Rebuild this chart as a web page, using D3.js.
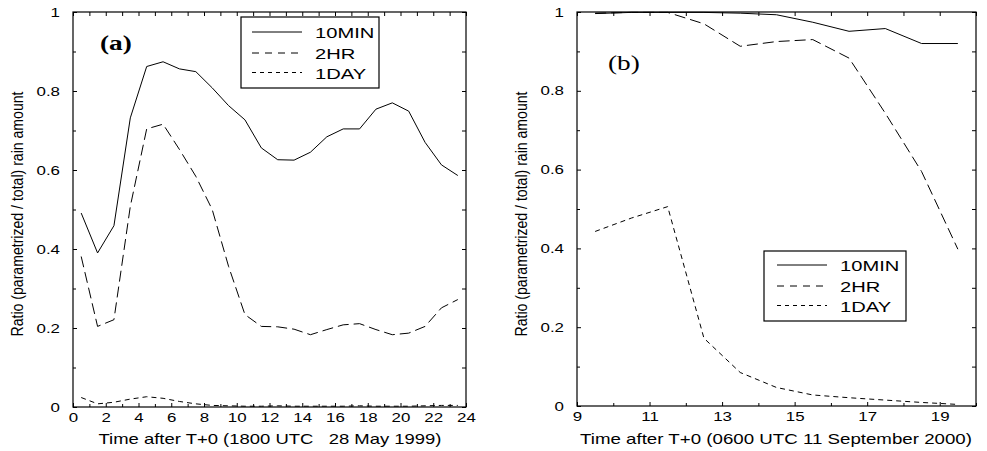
<!DOCTYPE html>
<html>
<head>
<meta charset="utf-8">
<script src="https://cdn.jsdelivr.net/npm/d3@7"></script>
<style>
  body { margin: 0; background: #fff; }
  svg { display: block; }
  .domain { stroke: none; }
  .tick line { stroke: #000; }
</style>
</head>
<body>
<script>
// ---- data ----
var hoursA = [0.5,1.5,2.5,3.5,4.5,5.5,6.5,7.5,8.5,9.5,10.5,11.5,12.5,13.5,14.5,15.5,16.5,17.5,18.5,19.5,20.5,21.5,22.5,23.5];
var min10A = [0.491,0.390,0.459,0.732,0.862,0.874,0.856,0.849,0.808,0.763,0.727,0.656,0.626,0.625,0.645,0.684,0.704,0.704,0.754,0.770,0.749,0.670,0.613,0.586];
var hr2A   = [0.381,0.204,0.221,0.508,0.704,0.716,0.652,0.584,0.500,0.356,0.234,0.204,0.203,0.197,0.183,0.196,0.208,0.211,0.196,0.183,0.187,0.204,0.251,0.272];
var day1A  = [0.024,0.008,0.012,0.020,0.026,0.022,0.014,0.008,0.004,0.003,0.002,0.002,0.003,0.002,0.002,0.002,0.002,0.003,0.002,0.002,0.002,0.003,0.004,0.004];

var hoursB = [9.5,10.5,11.5,12.5,13.5,14.5,15.5,16.5,17.5,18.5,19.5];
var min10B = [0.996,0.999,0.999,0.999,0.997,0.993,0.974,0.951,0.958,0.920,0.920];
var hr2B   = [0.997,0.999,0.999,0.970,0.913,0.925,0.930,0.883,0.743,0.595,0.398];
var day1B  = [0.443,0.477,0.506,0.172,0.085,0.047,0.028,0.021,0.015,0.009,0.004];

var yMajor = [0,0.2,0.4,0.6,0.8,1];
var yMinor = [0.1,0.3,0.5,0.7,0.9];
var xMajorA = d3.range(0, 25, 2);
var xMinorA = d3.range(1, 24, 2);
var xMajorB = [9,11,13,15,17,19];
var xMinorB = [10,12,14,16,18,20];

var seriesNames = ["10MIN", "2HR", "1DAY"];
var dashes = [null, "11,5", "5,4"];
var legendDashes = [null, "7,6", "4,4"];
var stretch = 1.3;  // the original figure is stretched sideways

var svg = d3.select("body").append("svg")
            .attr("width", 987)
            .attr("height", 451);

function yFmt(d) { return d === 0 ? "0" : d === 1 ? "1" : d3.format(".1f")(d); }

function drawPanel(p) {
    var w = p.x1 - p.x0, h = p.y1 - p.y0;
    var g = svg.append("g").attr("transform", "translate(" + p.x0 + "," + p.y0 + ")");

    var x = d3.scaleLinear().domain(p.xDomain).range([0, w]);
    var y = d3.scaleLinear().domain([0, 1]).range([h, 0]);

    // inward ticks on all four sides
    g.append("g").attr("transform", "translate(0," + h + ")")
     .call(d3.axisBottom(x).tickValues(p.xMinor).tickSize(-3).tickFormat(""));
    g.append("g")
     .call(d3.axisTop(x).tickValues(p.xMajor.concat(p.xMinor)).tickSize(-4).tickFormat(""));
    g.append("g").call(d3.axisLeft(y).tickValues(yMinor).tickSize(-3).tickFormat(""));
    g.append("g").attr("transform", "translate(" + w + ",0)")
     .call(d3.axisRight(y).tickValues(yMajor.concat(yMinor)).tickSize(-4).tickFormat(""));

    var xAxis = g.append("g").attr("transform", "translate(0," + h + ")")
     .call(d3.axisBottom(x).tickValues(p.xMajor).tickSize(-4).tickPadding(6));
    var yAxis = g.append("g")
     .call(d3.axisLeft(y).tickValues(yMajor).tickSize(-4).tickPadding(10).tickFormat(yFmt));

    [xAxis, yAxis].forEach(function(a) {
        a.selectAll("text")
         .attr("fill", "#000")
         .style("font-family", "Liberation Sans, Arial, sans-serif")
         .style("font-size", "13px")
         .attr("transform", "scale(" + stretch + ",1)");
    });

    g.append("rect")
     .attr("width", w).attr("height", h)
     .attr("fill", "none").attr("stroke", "#000").attr("stroke-width", 1.2);

    var line = d3.line().x(function(d) { return x(d[0]); }).y(function(d) { return y(d[1]); });
    p.series.forEach(function(s, i) {
        g.append("path")
         .datum(p.hours.map(function(t, j) { return [t, s[j]]; }))
         .attr("d", line)
         .attr("fill", "none")
         .attr("stroke", "#000")
         .attr("stroke-width", 1)
         .attr("stroke-dasharray", dashes[i]);
    });

    // axis titles
    svg.append("text")
       .attr("x", p.xTitle[0]).attr("y", p.xTitle[1])
       .attr("text-anchor", "middle")
       .attr("textLength", p.xTitle[2]).attr("lengthAdjust", "spacingAndGlyphs")
       .style("font-family", "Liberation Sans, Arial, sans-serif")
       .style("font-size", "15px")
       .text(p.xLabel);

    svg.append("text")
       .attr("transform", "translate(" + p.yTitle[0] + "," + p.yTitle[1] + ") scale(" + stretch + ",1) rotate(-90)")
       .attr("text-anchor", "middle")
       .attr("textLength", 245).attr("lengthAdjust", "spacingAndGlyphs")
       .style("font-family", "Liberation Sans, Arial, sans-serif")
       .style("font-size", "12px")
       .text("Ratio (parametrized / total) rain amount");

    // panel tag
    svg.append("text")
       .attr("transform", "translate(" + p.tag[0] + "," + p.tag[1] + ") scale(" + stretch + ",1)")
       .style("font-family", "Liberation Serif, Times New Roman, serif")
       .style("font-size", "21px")
       .style("font-weight", p.tagBold ? "bold" : "normal")
       .text(p.tagText);

    // legend
    var L = p.legend;
    svg.append("rect")
       .attr("x", L.x).attr("y", L.y).attr("width", L.w).attr("height", L.h)
       .attr("fill", "#fff").attr("stroke", "#000").attr("stroke-width", 1.2);
    seriesNames.forEach(function(name, i) {
        var ly = L.lineY[i];
        svg.append("line")
           .attr("x1", L.lx0).attr("x2", L.lx1).attr("y1", ly).attr("y2", ly)
           .attr("stroke", "#000").attr("stroke-width", 1)
           .attr("stroke-dasharray", legendDashes[i]);
        svg.append("text")
           .attr("transform", "translate(" + L.tx + "," + (ly + 6) + ") scale(" + stretch + ",1)")
           .style("font-family", "Liberation Sans, Arial, sans-serif")
           .style("font-size", "15.5px")
           .text(name);
    });
}

drawPanel({
    x0: 73, x1: 466, y0: 12, y1: 407,
    xDomain: [0, 24], xMajor: xMajorA, xMinor: xMinorA,
    hours: hoursA, series: [min10A, hr2A, day1A],
    xLabel: "Time after T+0 (1800 UTC \u00a0\u00a028 May 1999)",
    xTitle: [270, 444, 343],
    yTitle: [23, 214],
    tag: [100, 50], tagText: "(a)", tagBold: true,
    legend: { x: 241, y: 17, w: 138, h: 71, lx0: 252, lx1: 302, tx: 315, lineY: [32, 53, 72.5] }
});

drawPanel({
    x0: 577, x1: 976, y0: 12, y1: 406,
    xDomain: [9, 20], xMajor: xMajorB, xMinor: xMinorB,
    hours: hoursB, series: [min10B, hr2B, day1B],
    xLabel: "Time after T+0 (0600 UTC 11 September 2000)",
    xTitle: [776, 444, 392],
    yTitle: [527, 214],
    tag: [608, 70], tagText: "(b)", tagBold: false,
    legend: { x: 764, y: 251, w: 142, h: 70, lx0: 777, lx1: 827, tx: 840, lineY: [265, 286, 305.5] }
});
</script>
</body>
</html>
